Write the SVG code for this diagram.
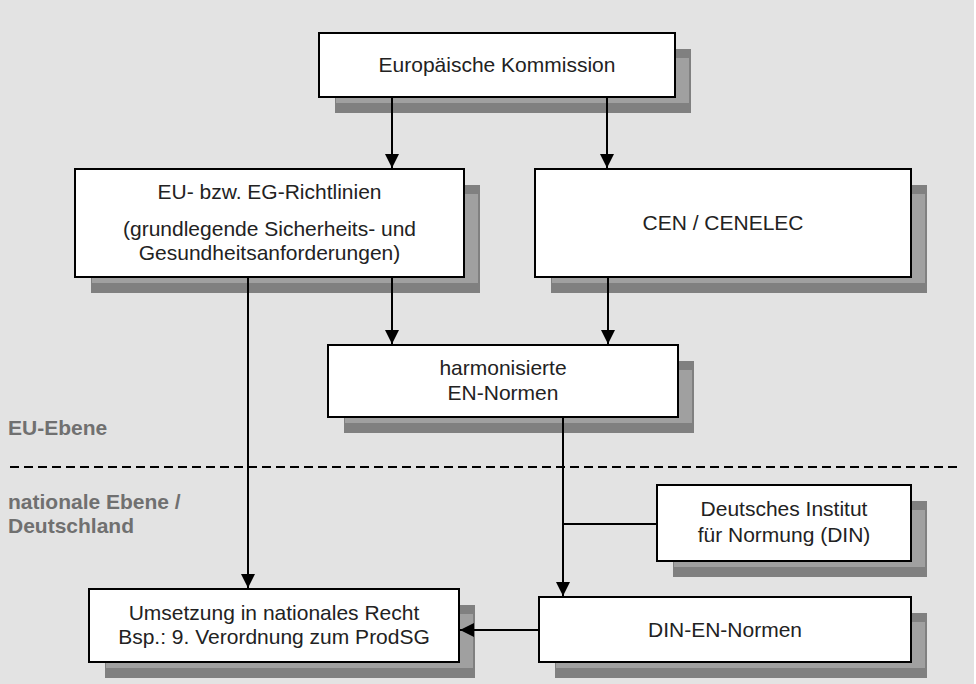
<svg xmlns="http://www.w3.org/2000/svg" width="976" height="684" viewBox="0 0 976 684">
<defs>
<style>
.bg{fill:#e3e3e3}
.sd{fill:#808080}
.sl{fill:#a0a0a0}
.bx{fill:#ffffff;stroke:#000000;stroke-width:2}
.t{font-family:"Liberation Sans",Arial,sans-serif;font-size:21px;fill:#222222;text-anchor:middle}
.lb{font-family:"Liberation Sans",Arial,sans-serif;font-size:21px;font-weight:bold;fill:#707070}
.ln{stroke:#000000;stroke-width:2;fill:none}
.ar{marker-end:url(#ah)}
.dash{stroke:#000000;stroke-width:2;stroke-dasharray:9 5;fill:none}
</style>
<marker id="ah" viewBox="0 0 14 14" refX="14" refY="7" markerWidth="14" markerHeight="14" markerUnits="userSpaceOnUse" orient="auto">
<path d="M0,0 L14,7 L0,14 z" fill="#000000"/>
</marker>
</defs>
<rect x="0" y="0" width="976" height="684" fill="#ffffff"/>
<rect class="bg" x="0" y="0" width="974" height="684"/>

<g id="labels">
<text class="lb" x="8" y="435">EU-Ebene</text>
<text class="lb" x="8" y="509">nationale Ebene /</text>
<text class="lb" x="8" y="533">Deutschland</text>
<line class="dash" x1="10" y1="467" x2="962" y2="467"/>
</g>

<g id="ek">
<rect class="sd" x="335" y="49" width="356" height="64"/>
<rect class="sl" x="336" y="58" width="353" height="45"/>
<rect class="bx" x="319" y="33" width="356" height="64"/>
<text class="t" x="497" y="72">Europäische Kommission</text>
</g>

<g id="eu">
<rect class="sd" x="91" y="185" width="389" height="108"/>
<rect class="sl" x="92" y="194" width="386" height="89"/>
<rect class="bx" x="75" y="169" width="389" height="108"/>
<text class="t" x="269.5" y="199">EU- bzw. EG-Richtlinien</text>
<text class="t" x="269.5" y="236">(grundlegende Sicherheits- und</text>
<text class="t" x="269.5" y="260">Gesundheitsanforderungen)</text>
</g>

<g id="cen">
<rect class="sd" x="551" y="185" width="376" height="108"/>
<rect class="sl" x="552" y="194" width="373" height="89"/>
<rect class="bx" x="535" y="169" width="376" height="108"/>
<text class="t" x="723" y="230">CEN / CENELEC</text>
</g>

<g id="hen">
<rect class="sd" x="344" y="361" width="350" height="72"/>
<rect class="sl" x="345" y="370" width="347" height="53"/>
<rect class="bx" x="328" y="345" width="350" height="72"/>
<text class="t" x="503" y="375">harmonisierte</text>
<text class="t" x="503" y="400">EN-Normen</text>
</g>

<g id="din">
<rect class="sd" x="673" y="501" width="254" height="76"/>
<rect class="sl" x="674" y="510" width="251" height="57"/>
<rect class="bx" x="657" y="485" width="254" height="76"/>
<text class="t" x="784" y="516">Deutsches Institut</text>
<text class="t" x="784" y="542">für Normung (DIN)</text>
</g>

<g id="dinen">
<rect class="sd" x="555" y="613" width="372" height="65"/>
<rect class="sl" x="556" y="622" width="369" height="46"/>
<rect class="bx" x="539" y="597" width="372" height="65"/>
<text class="t" x="725" y="637">DIN-EN-Normen</text>
</g>

<g id="um">
<rect class="sd" x="105" y="605" width="370" height="73"/>
<rect class="sl" x="106" y="614" width="367" height="54"/>
<rect class="bx" x="89" y="589" width="370" height="73"/>
<text class="t" x="274" y="620">Umsetzung in nationales Recht</text>
<text class="t" x="274" y="644">Bsp.: 9. Verordnung zum ProdSG</text>
</g>

<g id="connectors">
<line class="ln ar" x1="392" y1="98" x2="392" y2="168"/>
<line class="ln ar" x1="607" y1="98" x2="607" y2="168"/>
<line class="ln ar" x1="392" y1="278" x2="392" y2="344"/>
<line class="ln ar" x1="608" y1="278" x2="608" y2="344"/>
<line class="ln ar" x1="248" y1="278" x2="248" y2="588"/>
<line class="ln ar" x1="563" y1="418" x2="563" y2="596"/>
<line class="ln" x1="656" y1="524" x2="563" y2="524"/>
<line class="ln ar" x1="538" y1="630" x2="460" y2="630"/>
</g>
</svg>
